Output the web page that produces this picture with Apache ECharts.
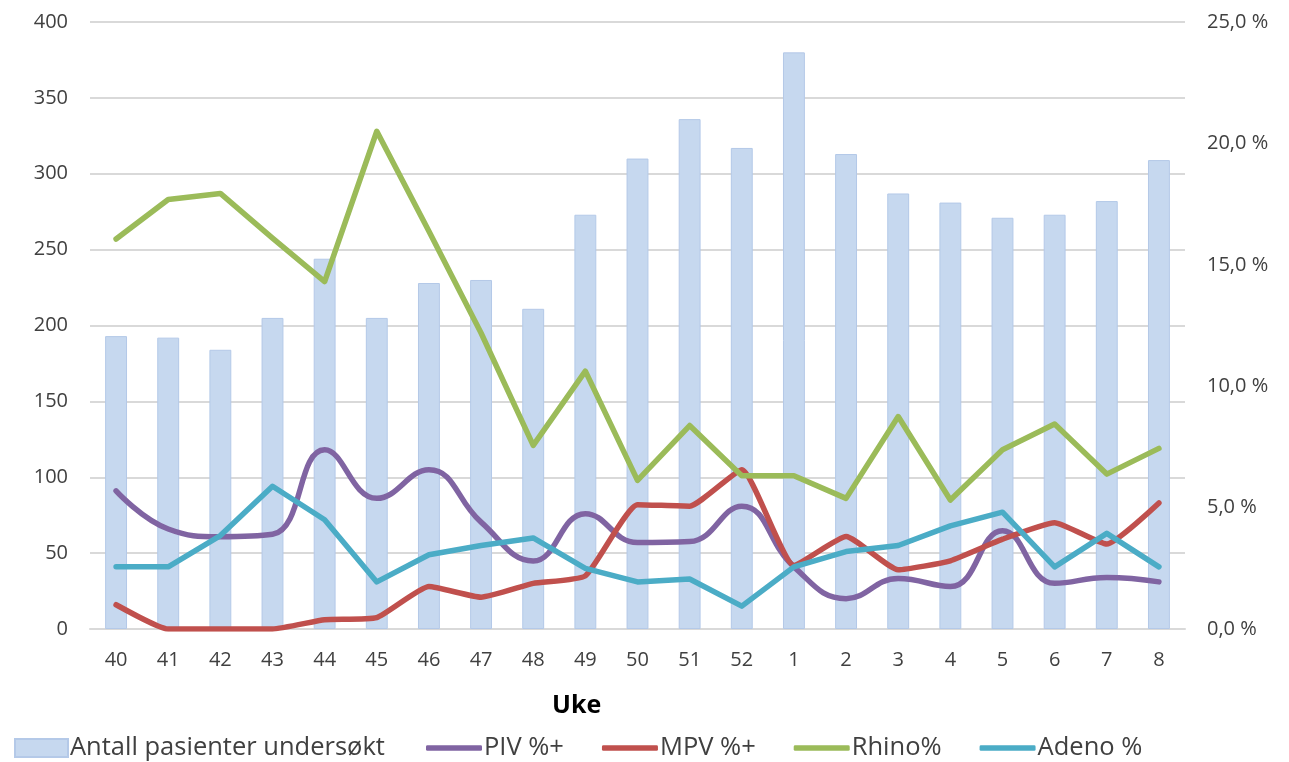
<!DOCTYPE html>
<html>
<head>
<meta charset="utf-8">
<script src="https://cdn.jsdelivr.net/npm/echarts@6/dist/echarts.min.js"></script>
<style>
html,body{margin:0;padding:0;background:#fff;}
#chart{width:1289px;height:762px;}
</style>
</head>
<body>
<div id="chart"></div>
<script>
const weeks = ['40','41','42','43','44','45','46','47','48','49','50','51','52','1','2','3','4','5','6','7','8'];
const patients = [193,192,184,205,244,205,228,230,211,273,310,336,317,380,313,287,281,271,273,282,309];
const piv = [5.69,4.12,3.8,3.9,7.38,5.38,6.56,4.4,2.8,4.75,3.56,3.6,5.06,2.56,1.25,2.08,1.75,4.05,1.88,2.12,1.94];
const mpv = [1.0,0,0,0,0.38,0.47,1.75,1.31,1.88,2.19,5.12,5.06,6.56,2.62,3.81,2.44,2.81,3.7,4.38,3.5,5.19];
const rhino = [16.06,17.69,17.94,16.1,14.31,20.5,16.38,12.19,7.56,10.62,6.12,8.38,6.31,6.31,5.38,8.75,5.31,7.38,8.44,6.38,7.44];
const adeno = [2.56,2.56,3.85,5.88,4.5,1.94,3.06,3.44,3.75,2.5,1.94,2.06,0.94,2.56,3.19,3.44,4.25,4.81,2.56,3.94,2.56];
const leftTicks = {min:0, max:400, interval:50};
const rightTicks = {min:0, max:25, interval:5};
const barName = 'Antall pasienter undersøkt';
const lineNames = ['PIV %+','MPV %+','Rhino%','Adeno %'];

const chart = echarts.init(document.getElementById('chart'));
const axFont = '"Open Sans", sans-serif';
const lgFont = '"Open Sans", sans-serif';
const lbl = {color:'#404040', fontSize:20, fontFamily:axFont};
function lineSeries(name, data, color, smooth){
  return {name, type:'line', yAxisIndex:1, data, symbol:'none', smooth: smooth,
    lineStyle:{color, width:5.5, cap:'round', join:'round'}, itemStyle:{color}, z:3};
}
const lgText = {color:'#404040', fontSize:25.5, fontFamily:lgFont, padding:[0,0,0,-3]};
chart.setOption({
  animation:false,
  grid:{left:90, right:104, top:22, bottom:133},
  legend:[
    {left:9, top:730, itemWidth:53, itemHeight:18, icon:'rect',
     textStyle:lgText, data:[barName]},
    {left:421, top:730, itemWidth:56, itemHeight:5.5, icon:'roundRect', itemGap:38,
     textStyle:lgText, data:lineNames}
  ],
  graphic:[{type:'text', left:552, top:693,
    style:{text:'Uke', fill:'#000', font:'bold 25px "Open Sans", sans-serif'}}],
  xAxis:{
    type:'category', data:weeks,
    axisLine:{show:true, lineStyle:{color:'#d9d9d9', width:2}},
    axisTick:{show:false},
    axisLabel:Object.assign({margin:21}, lbl)
  },
  yAxis:[
    {type:'value', min:leftTicks.min, max:leftTicks.max, interval:leftTicks.interval,
     axisLine:{show:false}, axisTick:{show:false},
     axisLabel:Object.assign({margin:22}, lbl),
     splitLine:{lineStyle:{color:'#d9d9d9', width:2}}},
    {type:'value', min:rightTicks.min, max:rightTicks.max, interval:rightTicks.interval,
     axisLine:{show:false}, axisTick:{show:false},
     axisLabel:Object.assign({margin:22, formatter:v=>v.toFixed(1).replace('.',',')+' %'}, lbl),
     splitLine:{show:false}}
  ],
  series:[
    {name:barName, type:'bar', data:patients, barWidth:'42%',
     itemStyle:{color:'#c6d8ef', borderColor:'#b4c9e8', borderWidth:1}, z:2},
    lineSeries(lineNames[0], piv, '#8064a2', 0.45),
    lineSeries(lineNames[1], mpv, '#c0504d', 0.15),
    lineSeries(lineNames[2], rhino, '#9bbb59', false),
    lineSeries(lineNames[3], adeno, '#4bacc6', false)
  ]
});
</script>
</body>
</html>
